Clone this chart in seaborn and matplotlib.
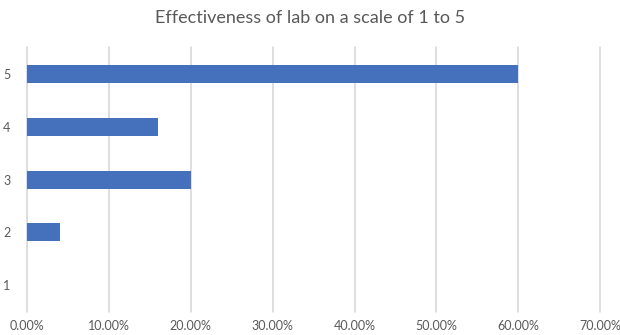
import matplotlib
matplotlib.use("Agg")
import matplotlib.pyplot as plt
import seaborn as sns
import pandas as pd
from matplotlib.ticker import FuncFormatter

# Survey results: share of respondents per rating
ratings = ["5", "4", "3", "2", "1"]
shares = [0.60, 0.16, 0.20, 0.04, 0.0]
x_ticks = [0.0, 0.1, 0.2, 0.3, 0.4, 0.5, 0.6, 0.7]
title = "Effectiveness of lab on a scale of 1 to 5"

df = pd.DataFrame({"rating": ratings, "share": shares})

sns.set_theme(style="white")
plt.rcParams["font.family"] = ["Lato", "DejaVu Sans"]

fig = plt.figure(figsize=(6.2, 3.35), dpi=100)
ax = fig.add_axes([0.0435, 0.069, 0.9245, 0.79])

sns.barplot(data=df, x="share", y="rating", order=ratings, orient="h",
            color="#4570BC", saturation=1, width=0.34, linewidth=0, ax=ax)

ax.set_xlim(0, 0.7)
ax.set_ylim(4.5, -0.5)
ax.set_xticks(x_ticks)
ax.xaxis.set_major_formatter(FuncFormatter(lambda v, _: f"{v*100:.2f}%"))
ax.grid(axis="x", color="#d4d4d4", linewidth=1.1)
for gl in ax.get_xgridlines():
    gl.set_clip_on(False)
ax.set_axisbelow(True)
for s in ax.spines.values():
    s.set_visible(False)
ax.tick_params(axis="both", length=0, labelsize=9, colors="#595959")
ax.tick_params(axis="y", pad=12)
ax.tick_params(axis="x", pad=6)
ax.set_xlabel("")
ax.set_ylabel("")
fig.text(0.5, 0.945, title, ha="center", va="center", fontsize=13, color="#595959")

fig.savefig("out.png", dpi=100, facecolor="white")
